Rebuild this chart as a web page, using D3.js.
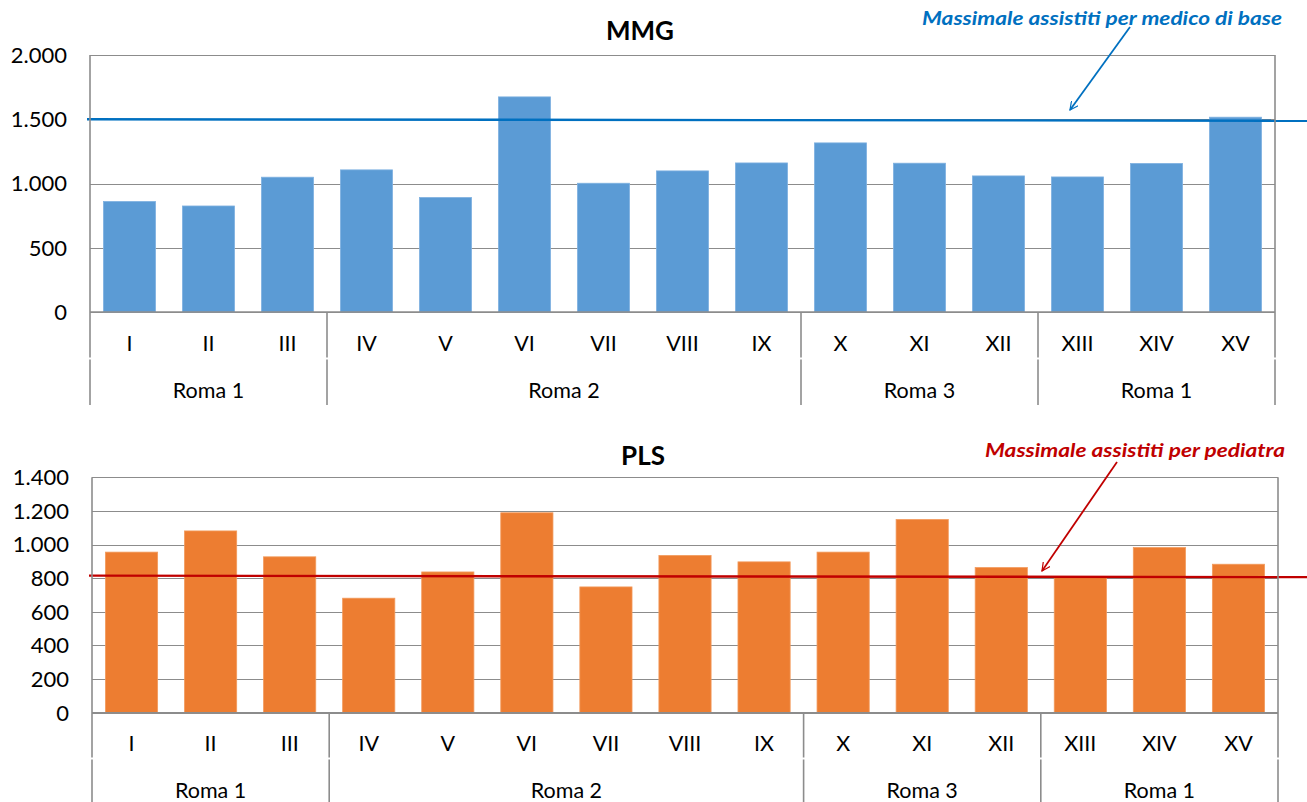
<!DOCTYPE html>
<html>
<head>
<meta charset="utf-8">
<script src="https://cdn.jsdelivr.net/npm/d3@7"></script>
<style>
  body { margin: 0; background: #fff; }
  svg { display: block; font-family: Lato, "Open Sans", sans-serif; }
</style>
</head>
<body>
<svg id="chart" width="1307" height="802"></svg>
<script>
// Data
const districts = ["I", "II", "III", "IV", "V", "VI", "VII", "VIII", "IX", "X", "XI", "XII", "XIII", "XIV", "XV"];
const groupLabels = ["Roma 1", "Roma 2", "Roma 3", "Roma 1"];
const groupSizes = [3, 6, 3, 3];

const mmgValues = [860, 825, 1049, 1106, 891, 1674, 1002, 1098, 1160, 1316, 1158, 1059, 1051, 1156, 1516];
const mmgTicks = [0, 500, 1000, 1500, 2000];
const mmgLimit = 1500;

const plsValues = [955, 1081, 927, 681, 837, 1189, 748, 935, 897, 955, 1149, 863, 805, 982, 883];
const plsTicks = [0, 200, 400, 600, 800, 1000, 1200, 1400];
const plsLimit = 815;

const itFormat = d3.formatLocale({ decimal: ",", thousands: ".", grouping: [3], currency: ["€", ""] }).format(",");

const svg = d3.select("#chart");

// Arrow marker (open chevron) per colour
const defs = svg.append("defs");
function addMarker(id, color) {
    defs.append("marker")
        .attr("id", id)
        .attr("viewBox", "0 -6 12 12")
        .attr("refX", 11)
        .attr("refY", 0)
        .attr("markerWidth", 9)
        .attr("markerHeight", 9)
        .attr("markerUnits", "userSpaceOnUse")
        .attr("orient", "auto")
        .append("path")
        .attr("d", "M0,-5.5L11,0L0,5.5")
        .attr("fill", "none")
        .attr("stroke", color)
        .attr("stroke-width", 1.6);
}
addMarker("arrowBlue", "#0070C0");
addMarker("arrowRed", "#C00000");

/**
 * Draw one panel: bars, gridlines, two-level category axis, limit line, annotation
 */
function drawPanel(p) {
    const g = svg.append("g");

    const x = d3.scaleBand()
        .domain(districts)
        .range([p.left, p.right])
        .paddingInner(0.34)
        .paddingOuter(0.17);

    const y = d3.scaleLinear()
        .domain([0, d3.max(p.ticks)])
        .range([p.bottom, p.top]);

    // Gridlines
    g.append("g")
        .selectAll("line")
        .data(p.ticks)
        .enter().append("line")
        .attr("x1", p.left)
        .attr("x2", p.right)
        .attr("y1", d => Math.round(y(d)) + 0.5)
        .attr("y2", d => Math.round(y(d)) + 0.5)
        .attr("stroke", "#8c8c8c")
        .attr("stroke-width", 1.2);

    // Y tick labels
    g.append("g")
        .selectAll("text")
        .data(p.ticks)
        .enter().append("text")
        .attr("x", p.left - 23)
        .attr("y", d => y(d))
        .attr("dy", "0.36em")
        .attr("text-anchor", "end")
        .attr("font-size", 22)
        .attr("fill", "#000")
        .text(d => itFormat(d));

    // Bars
    g.append("g")
        .selectAll("rect")
        .data(p.values)
        .enter().append("rect")
        .attr("x", (d, i) => x(districts[i]))
        .attr("y", d => y(d))
        .attr("width", x.bandwidth())
        .attr("height", d => p.bottom - y(d))
        .attr("fill", p.color)
        .attr("stroke", p.edge)
        .attr("stroke-width", 0.8);

    // Limit line
    g.append("line")
        .attr("x1", p.left - 3)
        .attr("x2", 1307)
        .attr("y1", y(p.limit))
        .attr("y2", y(p.limit) + 1.5)
        .attr("stroke", p.limitColor)
        .attr("stroke-width", 2.4);

    // Category labels
    g.append("g")
        .selectAll("text")
        .data(districts)
        .enter().append("text")
        .attr("x", d => x(d) + x.bandwidth() / 2)
        .attr("y", p.catY)
        .attr("dy", "0.36em")
        .attr("text-anchor", "middle")
        .attr("font-size", 21.5)
        .attr("fill", "#000")
        .text(d => d);

    // Group separators and labels
    const step = x.step();
    const split = p.catY + 15.5;
    let start = 0;
    const bounds = [0];
    groupSizes.forEach(s => { start += s; bounds.push(start); });

    const sep = g.append("g")
        .attr("stroke", "#8c8c8c")
        .attr("stroke-width", 1.6);
    bounds.forEach(b => {
        const bx = p.left + b * step;
        const isEdge = (b === 0 || b === districts.length);
        sep.append("line")
            .attr("x1", bx).attr("x2", bx)
            .attr("y1", isEdge ? p.top : p.bottom)
            .attr("y2", split - 1);
        sep.append("line")
            .attr("x1", bx).attr("x2", bx)
            .attr("y1", split + 1)
            .attr("y2", p.axisEnd);
    });

    g.append("g")
        .selectAll("text")
        .data(groupLabels)
        .enter().append("text")
        .attr("x", (d, i) => p.left + (bounds[i] + bounds[i + 1]) / 2 * step)
        .attr("y", p.groupY)
        .attr("dy", "0.36em")
        .attr("text-anchor", "middle")
        .attr("font-size", 21.5)
        .attr("fill", "#000")
        .text(d => d);

    // Baseline
    g.append("line")
        .attr("x1", p.left)
        .attr("x2", p.right)
        .attr("y1", p.bottom)
        .attr("y2", p.bottom)
        .attr("stroke", "#8c8c8c")
        .attr("stroke-width", 1.6);

    // Title
    g.append("text")
        .attr("x", p.titleX)
        .attr("y", p.titleY)
        .attr("text-anchor", "middle")
        .attr("font-size", 26)
        .attr("font-weight", "bold")
        .attr("fill", "#000")
        .text(p.title);

    // Annotation
    g.append("text")
        .attr("x", p.noteX - p.noteW)
        .attr("y", p.noteY)
        .attr("font-size", 19.5)
        .attr("font-weight", "bold")
        .attr("font-style", "italic")
        .attr("textLength", p.noteW)
        .attr("lengthAdjust", "spacingAndGlyphs")
        .attr("fill", p.limitColor)
        .text(p.note);

    g.append("line")
        .attr("x1", p.arrow[0])
        .attr("y1", p.arrow[1])
        .attr("x2", p.arrow[2])
        .attr("y2", p.arrow[3])
        .attr("stroke", p.limitColor)
        .attr("stroke-width", 1.8)
        .attr("marker-end", `url(#${p.marker})`);
}

drawPanel({
    values: mmgValues, ticks: mmgTicks, limit: mmgLimit,
    left: 90, right: 1275, top: 55, bottom: 312,
    catY: 343, groupY: 390, axisEnd: 405,
    color: "#5B9BD5", edge: "#7fb1e0", limitColor: "#0070C0",
    title: "MMG", titleX: 640, titleY: 40,
    note: "Massimale assistiti per medico di base", noteX: 1282, noteW: 360, noteY: 25,
    arrow: [1130, 27, 1070, 110], marker: "arrowBlue"
});

drawPanel({
    values: plsValues, ticks: plsTicks, limit: plsLimit,
    left: 92, right: 1278, top: 477.3, bottom: 712.7,
    catY: 743, groupY: 790, axisEnd: 802,
    color: "#ED7D31", edge: "#f29a5c", limitColor: "#C00000",
    title: "PLS", titleX: 643, titleY: 465,
    note: "Massimale assistiti per pediatra", noteX: 1285, noteW: 300, noteY: 457,
    arrow: [1117, 462, 1042, 571], marker: "arrowRed"
});
</script>
</body>
</html>
